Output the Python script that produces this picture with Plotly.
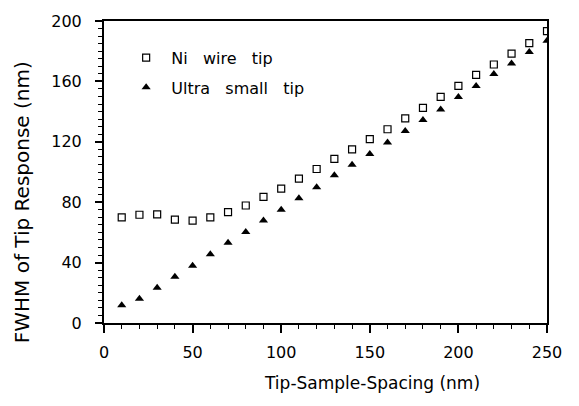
import plotly.graph_objects as go

spacing = [10, 20, 30, 40, 50, 60, 70, 80, 90, 100, 110, 120, 130, 140, 150, 160, 170,
           180, 190, 200, 210, 220, 230, 240, 250]
ni_wire = [70, 71.7, 72, 68.4, 67.8, 70, 73.4, 77.8, 83.5, 89, 95.6, 102, 108.7, 115,
           121.8, 128.3, 135.5, 142.5, 149.7, 157, 164.3, 171.2, 178.4, 185.4, 193.3]
ultra_small = [11.8, 16.1, 23.3, 30.7, 37.9, 45.5, 53.2, 60.3, 67.8, 75, 82.6, 89.9,
               97.8, 104.8, 112, 119.6, 127.2, 134.4, 141.4, 149.7, 157, 164.9, 171.9,
               179.5, 187]
x_title = "Tip-Sample-Spacing (nm)"
y_title = "FWHM of Tip Response (nm)"

FONT = "DejaVu Sans"

fig = go.Figure()
fig.add_trace(go.Scatter(
    x=spacing, y=ni_wire, mode="markers", name="\u00a0Ni\u00a0\u00a0 wire\u00a0\u00a0 tip",
    legendgroup="a",
    marker=dict(symbol="square-open", size=7, color="black", line=dict(width=1.2)),
))
fig.add_trace(go.Scatter(
    x=spacing, y=ultra_small, mode="markers", name="\u00a0Ultra\u00a0\u00a0 small\u00a0\u00a0 tip",
    legendgroup="b",
    marker=dict(symbol="triangle-up", size=8, color="black"),
))

fig.add_annotation(text=x_title, xref="paper", yref="paper", x=0.605, y=0,
                   yshift=-60, yanchor="middle", xanchor="center", showarrow=False,
                   font=dict(size=17, family=FONT))
fig.add_annotation(text=y_title, xref="paper", yref="paper", x=0, y=0.40,
                   xshift=-82, xanchor="center", yanchor="middle", textangle=-90,
                   showarrow=False, font=dict(size=20, family=FONT))

fig.update_layout(
    width=579, height=406,
    margin=dict(l=104, r=32, t=17, b=83),
    paper_bgcolor="white", plot_bgcolor="white",
    font=dict(family=FONT, size=15, color="black"),
    showlegend=True,
    legend=dict(x=0.05, y=0.935, xanchor="left", yanchor="top",
                bgcolor="rgba(0,0,0,0)", font=dict(size=16, family=FONT),
                tracegroupgap=6),
    xaxis=dict(
        range=[0, 250], tickvals=[0, 50, 100, 150, 200, 250],
        showgrid=False, zeroline=False,
        showline=True, linecolor="black", linewidth=2, mirror=True,
        ticks="outside", ticklen=8, tickwidth=1.5, tickcolor="black",
        minor=dict(dtick=10, ticks="outside", ticklen=4, tickwidth=1.2, tickcolor="black"),
        tickfont=dict(size=16, family=FONT), ticklabelstandoff=6,
    ),
    yaxis=dict(
        range=[0, 200], tickvals=[0, 40, 80, 120, 160, 200],
        showgrid=False, zeroline=False,
        showline=True, linecolor="black", linewidth=2, mirror=True,
        ticks="outside", ticklen=7, tickwidth=1.5, tickcolor="black",
        minor=dict(dtick=5, ticks="outside", ticklen=4, tickwidth=1.2, tickcolor="black"),
        tickfont=dict(size=16, family=FONT), ticklabelstandoff=10,
    ),
)

fig.write_html("out.html")
